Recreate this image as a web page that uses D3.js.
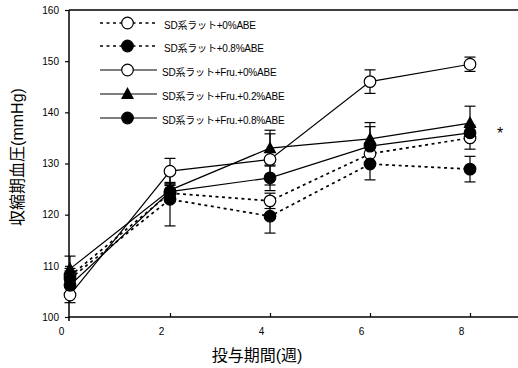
<!DOCTYPE html>
<html>
<head>
<meta charset="utf-8">
<script src="https://cdn.jsdelivr.net/npm/d3@7"></script>
<style>
  body { margin: 0; background: #fff; }
  text { font-family: "Liberation Sans", Arial, "Noto Sans CJK JP", sans-serif; fill: #000; }
</style>
</head>
<body>
<svg id="chart" width="518" height="368"></svg>
<script>
// data
const weeks = [0, 2, 4, 6, 8];
const seriesNames = ["SD系ラット+0%ABE", "SD系ラット+0.8%ABE", "SD系ラット+Fru.+0%ABE", "SD系ラット+Fru.+0.2%ABE", "SD系ラット+Fru.+0.8%ABE"];
const sd0 = [108.0, 124.2, 122.7, 131.9, 135.0];
const sd0Err = [1.5, 1.5, 1.5, 2.0, 2.2];
const sd08 = [107.5, 123.0, 119.7, 129.9, 128.9];
const sd08Err = [1.5, 5.2, 3.3, 3.1, 2.5];
const fru0 = [104.3, 128.5, 130.8, 146.0, 149.4];
const fru0Err = [1.5, 2.5, 5.0, 2.3, 1.4];
const fru02 = [109.4, 124.8, 133.0, 134.8, 137.9];
const fru02Err = [2.5, 1.5, 3.5, 3.2, 3.3];
const fru08 = [106.2, 124.5, 127.2, 133.4, 136.0];
const fru08Err = [1.5, 1.5, 2.5, 3.8, 1.5];
const yTicks = [100, 110, 120, 130, 140, 150, 160];
const xTicks = [0, 2, 4, 6, 8];

const series = [
  { name: seriesNames[0], values: sd0, err: sd0Err, dashed: true, marker: "open" },
  { name: seriesNames[1], values: sd08, err: sd08Err, dashed: true, marker: "filled" },
  { name: seriesNames[2], values: fru0, err: fru0Err, dashed: false, marker: "open" },
  { name: seriesNames[3], values: fru02, err: fru02Err, dashed: false, marker: "triangle" },
  { name: seriesNames[4], values: fru08, err: fru08Err, dashed: false, marker: "filled" }
];

const svg = d3.select("#chart");
const x = d3.scaleLinear().domain([0, 9]).range([70, 520]);
const y = d3.scaleLinear().domain([100, 160]).range([317, 10]);

// frame
svg.append("line").attr("x1", 69).attr("x2", 518).attr("y1", 10).attr("y2", 10)
  .attr("stroke", "#000").attr("stroke-width", 1.5);

const yAxis = svg.append("g").attr("transform", "translate(69,0)")
  .call(d3.axisLeft(y).tickValues(yTicks).tickSize(4).tickSizeOuter(0).tickPadding(6));
yAxis.select(".domain").attr("d", "M0,10V321").attr("stroke-width", 1.5);
yAxis.selectAll(".tick line").attr("stroke-width", 1.2);
yAxis.selectAll("text").attr("font-size", 10).attr("font-family", null);

const xAxis = svg.append("g").attr("transform", "translate(0,317)")
  .call(d3.axisTop(x).tickValues(xTicks).tickSize(4).tickSizeOuter(0).tickFormat(d3.format("d")));
xAxis.select(".domain").attr("d", "M69,0H518").attr("stroke-width", 1.5);
xAxis.selectAll(".tick line").attr("stroke-width", 1.2).attr("opacity", d => d === 0 ? 0 : 1);
xAxis.selectAll("text").attr("font-size", 10).attr("font-family", null)
  .attr("y", 18).attr("dy", 0).attr("dx", -9);

// axis titles
svg.append("text").attr("transform", "translate(23,157) rotate(-90)")
  .attr("text-anchor", "middle").attr("font-size", 16)
  .attr("font-family", "'Noto Sans CJK JP', sans-serif")
  .text("収縮期血圧(mmHg)");
svg.append("text").attr("x", 257).attr("y", 361)
  .attr("text-anchor", "middle").attr("font-size", 16)
  .attr("font-family", "'Noto Sans CJK JP', sans-serif")
  .text("投与期間(週)");

const line = d3.line().x((d, i) => x(weeks[i])).y(d => y(d));

// lines
svg.append("g").selectAll("path").data(series).join("path")
  .attr("d", d => line(d.values))
  .attr("fill", "none").attr("stroke", "#000")
  .attr("stroke-width", d => d.dashed ? 1.7 : 1.2)
  .attr("stroke-dasharray", d => d.dashed ? "3,3.5" : null);

// error bars
const errData = series.flatMap(s => s.values.map((v, i) => ({ w: weeks[i], v, e: s.err[i] })));
const eb = svg.append("g").selectAll("g").data(errData).join("g");
eb.append("line").attr("x1", d => x(d.w)).attr("x2", d => x(d.w))
  .attr("y1", d => y(d.v - d.e)).attr("y2", d => y(d.v + d.e))
  .attr("stroke", "#000").attr("stroke-width", 1.2);
[-1, 1].forEach(s => {
  eb.append("line").attr("x1", d => x(d.w) - 5.5).attr("x2", d => x(d.w) + 5.5)
    .attr("y1", d => y(d.v + s * d.e)).attr("y2", d => y(d.v + s * d.e))
    .attr("stroke", "#000").attr("stroke-width", 1.2);
});

function drawMarker(g, type, cx, cy) {
  if (type === "triangle") {
    g.append("path")
      .attr("d", `M${cx},${cy - 7}L${cx + 6.5},${cy + 5}L${cx - 6.5},${cy + 5}Z`)
      .attr("fill", "#000");
  } else {
    g.append("circle").attr("cx", cx).attr("cy", cy).attr("r", 5.8)
      .attr("fill", type === "open" ? "#fff" : "#000")
      .attr("stroke", "#000").attr("stroke-width", 1.2);
  }
}

// markers
const markerOrder = [0, 1, 2, 4, 3];
const mk = svg.append("g");
markerOrder.forEach(k => {
  const s = series[k];
  s.values.forEach((v, i) => drawMarker(mk, s.marker, x(weeks[i]), y(v)));
});

// legend
const legendY = [23, 46, 70, 94, 118];
const lg = svg.append("g");
series.forEach((s, i) => {
  const ly = legendY[i];
  lg.append("line").attr("x1", 100).attr("x2", 157).attr("y1", ly).attr("y2", ly)
    .attr("stroke", "#000").attr("stroke-width", s.dashed ? 1.7 : 1.2)
    .attr("stroke-dasharray", s.dashed ? "3,3.5" : null);
  drawMarker(lg, s.marker, 127.5, ly);
  lg.append("text").attr("x", s.dashed ? 164 : 162).attr("y", ly + 5.5)
    .attr("font-size", 10).attr("letter-spacing", -0.2).text(s.name);
});

// significance mark
svg.append("text").attr("x", 500).attr("y", 139).attr("text-anchor", "middle")
  .attr("font-size", 16).text("*");
</script>
</body>
</html>
